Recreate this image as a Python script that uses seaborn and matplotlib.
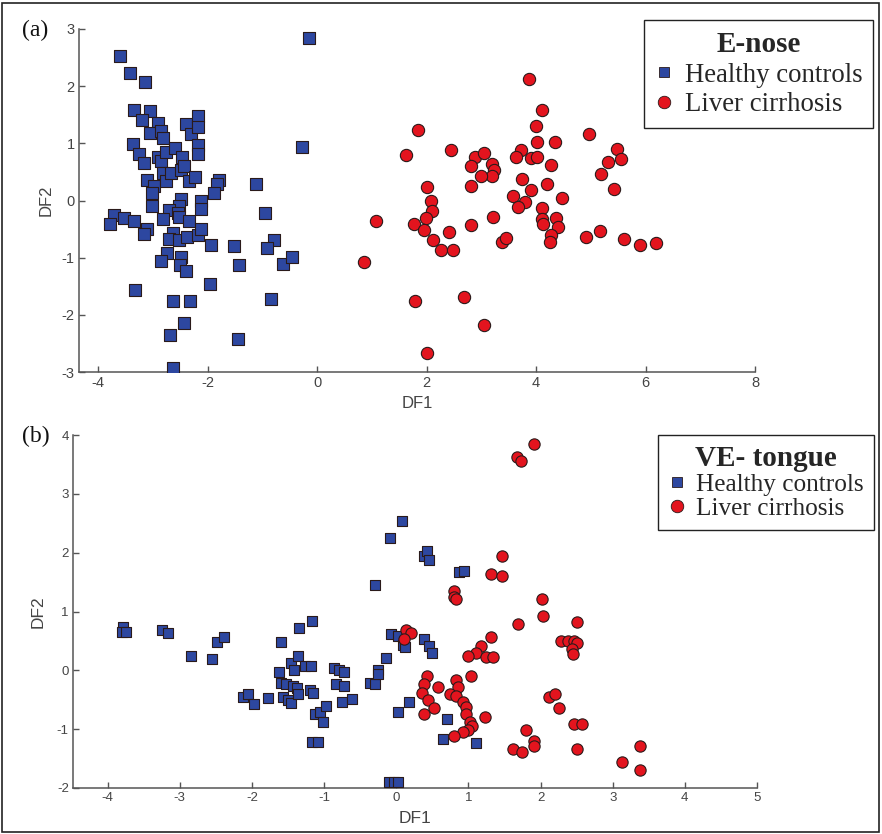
import numpy as np
import pandas as pd
import matplotlib
matplotlib.use("Agg")
import matplotlib.pyplot as plt
import seaborn as sns
from matplotlib.lines import Line2D
from matplotlib.patches import Rectangle

# ---------------- data: panel (a) E-nose ----------------
a_healthy_df1 = [-3.60, -3.41, -3.14, -0.14, -3.34, -3.05, -3.19, -2.90, -3.05, -2.85,
                 -2.82, -2.40, -2.31, -2.18, -2.17, -2.18, -2.17, -3.37, -3.25, -3.16,
                 -2.91, -2.85, -2.76, -2.59, -2.47, -0.28, -3.10, -2.98, -3.01, -2.82,
                 -2.76, -2.67, -2.49, -2.43, -2.34, -2.23, -1.79, -1.82, -1.89, -1.12,
                 -3.02, -2.49, -2.53, -2.70, -2.55, -2.13, -2.12, -3.71, -3.53, -3.34,
                 -3.79, -2.52, -2.82, -2.34, -0.95, -3.11, -3.16, -2.64, -2.71, -2.52,
                 -2.37, -2.17, -2.12, -1.93, -1.52, -0.78, -0.91, -2.74, -2.85, -2.49,
                 -2.51, -2.39, -1.43, -0.62, -0.45, -3.32, -1.96, -2.63, -2.33, -0.84,
                 -2.44, -2.69, -1.45, -2.64]
a_healthy_df2 = [2.52, 2.23, 2.07, 2.85, 1.59, 1.57, 1.40, 1.36, 1.18, 1.22,
                 1.09, 1.33, 1.17, 1.47, 1.28, 0.97, 0.81, 0.99, 0.82, 0.66,
                 0.76, 0.69, 0.84, 0.92, 0.76, 0.94, 0.36, 0.25, 0.13, 0.48,
                 0.34, 0.48, 0.54, 0.60, 0.34, 0.41, 0.36, 0.28, 0.13, 0.28,
                 -0.09, 0.03, -0.09, -0.17, -0.22, 0.00, -0.14, -0.25, -0.31, -0.35,
                 -0.41, -0.28, -0.32, -0.36, -0.21, -0.49, -0.59, -0.56, -0.67, -0.69,
                 -0.64, -0.60, -0.49, -0.77, -0.79, -0.69, -0.83, -0.92, -1.06, -0.98,
                 -1.13, -1.24, -1.13, -1.11, -0.99, -1.56, -1.46, -1.75, -1.76, -1.73,
                 -2.15, -2.35, -2.42, -2.93]
a_cirrhosis_df1 = [3.88, 4.11, 1.84, 1.62, 2.44, 3.99, 4.01, 4.34, 4.97, 2.88,
                   3.05, 2.82, 3.19, 3.23, 3.19, 2.99, 2.82, 3.72, 3.64, 3.91,
                   4.02, 4.28, 3.75, 4.20, 3.90, 3.57, 3.79, 3.67, 4.48, 4.10,
                   4.10, 4.13, 4.36, 4.41, 4.27, 4.26, 5.47, 5.56, 5.31, 5.18,
                   5.42, 4.92, 5.16, 5.60, 5.89, 6.20, 2.01, 2.08, 2.09, 1.99,
                   1.77, 1.95, 2.11, 2.26, 2.49, 2.41, 2.82, 3.22, 3.38, 3.46,
                   1.08, 0.86, 1.78, 2.69, 3.05, 2.01]
a_cirrhosis_df2 = [2.13, 1.59, 1.23, 0.80, 0.89, 1.31, 1.03, 1.03, 1.17, 0.76,
                   0.83, 0.60, 0.63, 0.53, 0.42, 0.42, 0.25, 0.89, 0.76, 0.74,
                   0.76, 0.62, 0.38, 0.29, 0.18, 0.08, -0.03, -0.11, 0.04, -0.13,
                   -0.32, -0.41, -0.31, -0.47, -0.61, -0.73, 0.90, 0.73, 0.67, 0.46,
                   0.20, -0.64, -0.53, -0.67, -0.77, -0.74, 0.23, 0.00, -0.19, -0.31,
                   -0.41, -0.51, -0.69, -0.86, -0.86, -0.55, -0.42, -0.29, -0.73, -0.66,
                   -0.36, -1.08, -1.75, -1.69, -2.17, -2.67]

# ---------------- data: panel (b) VE- tongue ----------------
b_healthy_df1 = [-3.79, -3.80, -3.75, -3.24, -3.17, -2.85, -2.56, -2.48, -2.39, -1.60,
                 -1.35, -1.17, -0.30, -0.09, 0.08, 0.38, 0.43, 0.46, -2.12, -2.06,
                 -1.97, -1.78, -1.63, -1.60, -1.57, -1.50, -1.46, -1.53, -1.46, -1.42,
                 -1.36, -1.43, -1.37, -1.36, -1.27, -1.18, -1.20, -1.15, -1.13, -1.05,
                 -0.98, -1.02, -1.17, -1.08, -0.86, -0.79, -0.73, -0.84, -0.72, -0.75,
                 -0.62, -0.37, -0.29, -0.25, -0.25, -0.14, -0.07, 0.02, 0.09, 0.12,
                 0.39, 0.46, 0.50, 0.02, 0.18, -0.10, -0.03, 0.03, 0.87, 0.94,
                 0.71, 0.65, 1.10]
b_healthy_df2 = [0.73, 0.66, 0.66, 0.68, 0.63, 0.24, 0.19, 0.48, 0.56, 0.49,
                 0.72, 0.84, 1.45, 2.25, 2.53, 1.95, 2.03, 1.87, -0.45, -0.41,
                 -0.57, -0.47, -0.02, -0.22, -0.45, -0.50, -0.56, -0.24, 0.12, 0.01,
                 0.24, -0.27, -0.30, -0.41, 0.08, 0.07, -0.34, -0.39, -0.75, -0.70,
                 -0.61, -0.87, -1.22, -1.22, 0.04, 0.01, -0.02, -0.24, -0.27, -0.53,
                 -0.48, -0.22, -0.24, 0.01, -0.07, 0.21, 0.62, 0.59, 0.43, 0.39,
                 0.53, 0.42, 0.29, -0.71, -0.54, -1.90, -1.90, -1.90, 1.67, 1.69,
                 -0.83, -1.16, -1.23]
b_cirrhosis_df1 = [1.91, 1.68, 1.73, 1.46, 1.32, 1.46, 0.80, 0.80, 0.83, 2.02,
                   2.03, 1.69, 2.51, 0.13, 0.20, 0.11, 1.32, 1.17, 1.11, 0.99,
                   1.24, 1.34, 2.28, 2.38, 2.46, 2.50, 2.43, 2.45, 1.03, 0.42,
                   0.39, 0.58, 0.36, 0.44, 0.52, 0.38, 0.83, 0.85, 0.75, 0.83,
                   0.92, 0.96, 0.97, 1.02, 1.05, 0.99, 0.92, 0.80, 1.23, 2.12,
                   2.20, 2.26, 2.46, 2.57, 1.80, 1.91, 1.91, 1.62, 1.74, 2.51,
                   3.38, 3.13, 3.38]
b_cirrhosis_df2 = [3.85, 3.63, 3.55, 1.95, 1.64, 1.61, 1.34, 1.24, 1.21, 1.22,
                   0.93, 0.79, 0.82, 0.69, 0.64, 0.53, 0.56, 0.41, 0.30, 0.25,
                   0.23, 0.23, 0.50, 0.50, 0.50, 0.47, 0.36, 0.28, -0.09, -0.09,
                   -0.24, -0.28, -0.39, -0.50, -0.64, -0.75, -0.17, -0.28, -0.41, -0.43,
                   -0.54, -0.63, -0.74, -0.87, -0.95, -1.02, -1.04, -1.12, -0.79, -0.45,
                   -0.41, -0.64, -0.92, -0.91, -1.02, -1.20, -1.29, -1.34, -1.38, -1.34,
                   -1.29, -1.56, -1.69]

groups = ["Healthy controls", "Liver cirrhosis"]
a_xticks = [-4, -2, 0, 2, 4, 6, 8]
a_yticks = [-3, -2, -1, 0, 1, 2, 3]
b_xticks = [-4, -3, -2, -1, 0, 1, 2, 3, 4, 5]
b_yticks = [-2, -1, 0, 1, 2, 3, 4]

BLUE = "#2d47a0"
RED = "#e3141e"
EDGE = "#2a1a1a"


def make_df(h1, h2, c1, c2):
    return pd.DataFrame({
        "DF1": list(h1) + list(c1),
        "DF2": list(h2) + list(c2),
        "group": [groups[0]] * len(h1) + [groups[1]] * len(c1),
    })


df_a = make_df(a_healthy_df1, a_healthy_df2, a_cirrhosis_df1, a_cirrhosis_df2)
df_b = make_df(b_healthy_df1, b_healthy_df2, b_cirrhosis_df1, b_cirrhosis_df2)

sns.set_theme(style="white")
plt.rcParams["font.family"] = ["Liberation Sans", "DejaVu Sans"]

fig = plt.figure(figsize=(8.82, 8.34), dpi=100)
fig.patch.set_facecolor("white")

ax_a = fig.add_axes([79 / 882, 1 - 372 / 834, 676 / 882, 343 / 834])
ax_b = fig.add_axes([73 / 882, 1 - 788 / 834, 684 / 882, 353 / 834])

palette = {groups[0]: BLUE, groups[1]: RED}
markers = {groups[0]: "s", groups[1]: "o"}


def draw(ax, df, sizes, xlim, ylim, xticks, yticks, tick_fs):
    for g in groups:
        sub = df[df["group"] == g]
        sns.scatterplot(data=sub, x="DF1", y="DF2", ax=ax, color=palette[g],
                        marker=markers[g], s=sizes[g], edgecolor=EDGE,
                        linewidth=0.8, legend=False, zorder=3)
    ax.set_xlim(*xlim)
    ax.set_ylim(*ylim)
    ax.set_xticks(xticks)
    ax.set_yticks(yticks)
    ax.set_xticklabels([str(t) for t in xticks])
    ax.set_yticklabels([str(t) for t in yticks])
    for s in ["top", "right"]:
        ax.spines[s].set_visible(False)
    for s in ["left", "bottom"]:
        ax.spines[s].set_color("#555555")
        ax.spines[s].set_linewidth(1.1)
    ax.tick_params(direction="in", length=4, width=1, color="#555555",
                   labelsize=tick_fs, labelcolor="#444444", pad=3,
                   bottom=True, left=True)
    ax.set_facecolor("white")


draw(ax_a, df_a, {groups[0]: 72, groups[1]: 78}, (-4.35, 8), (-3, 3),
     a_xticks, a_yticks, 10.5)
draw(ax_b, df_b, {groups[0]: 60, groups[1]: 66}, (-4.48, 5), (-2, 4),
     b_xticks, b_yticks, 9.5)

ax_a.set_xlabel("DF1", fontsize=12, color="#444444", labelpad=4)
ax_a.set_ylabel("DF2", fontsize=12, color="#444444", labelpad=6)
ax_b.set_xlabel("DF1", fontsize=12.5, color="#444444", labelpad=5)
ax_b.set_ylabel("DF2", fontsize=12.5, color="#444444", labelpad=8)

serif = ["Liberation Serif", "DejaVu Serif"]


def add_legend(ax, title, anchor, fs, tfs, spacing):
    handles = [
        Line2D([], [], marker="s", linestyle="none", markerfacecolor=BLUE,
               markeredgecolor=EDGE, markersize=7.5, markeredgewidth=0.6),
        Line2D([], [], marker="o", linestyle="none", markerfacecolor=RED,
               markeredgecolor=EDGE, markersize=9, markeredgewidth=0.6),
    ]
    leg = ax.legend(handles, groups, loc="upper left", bbox_to_anchor=anchor,
                    bbox_transform=fig.transFigure, frameon=True, fancybox=False,
                    edgecolor="#222222", framealpha=1,
                    prop={"family": serif, "size": fs},
                    title=title,
                    title_fontproperties={"family": serif, "size": tfs,
                                          "weight": "bold"},
                    handlelength=0.7, handletextpad=0.42, labelspacing=spacing,
                    borderpad=0.4, borderaxespad=0)
    leg.get_frame().set_linewidth(1.0)
    leg._legend_box.align = "center"
    return leg


add_legend(ax_a, "E-nose", (644 / 882, 1 - 20 / 834), 19.3, 21, 0.18)
add_legend(ax_b, "VE- tongue", (658 / 882, 1 - 435 / 834), 18.2, 21, 0.05)

fig.text(22 / 882, 1 - 30 / 834, "(a)", fontsize=17, family=serif,
         va="center", ha="left", color="#111111")
fig.text(22 / 882, 1 - 436 / 834, "(b)", fontsize=17, family=serif,
         va="center", ha="left", color="#111111")

fig.patches.append(Rectangle((2 / 882, 2 / 834), 877 / 882, 829 / 834,
                             transform=fig.transFigure, fill=False,
                             edgecolor="#222222", linewidth=1.2))

fig.savefig("out.png", dpi=100)
